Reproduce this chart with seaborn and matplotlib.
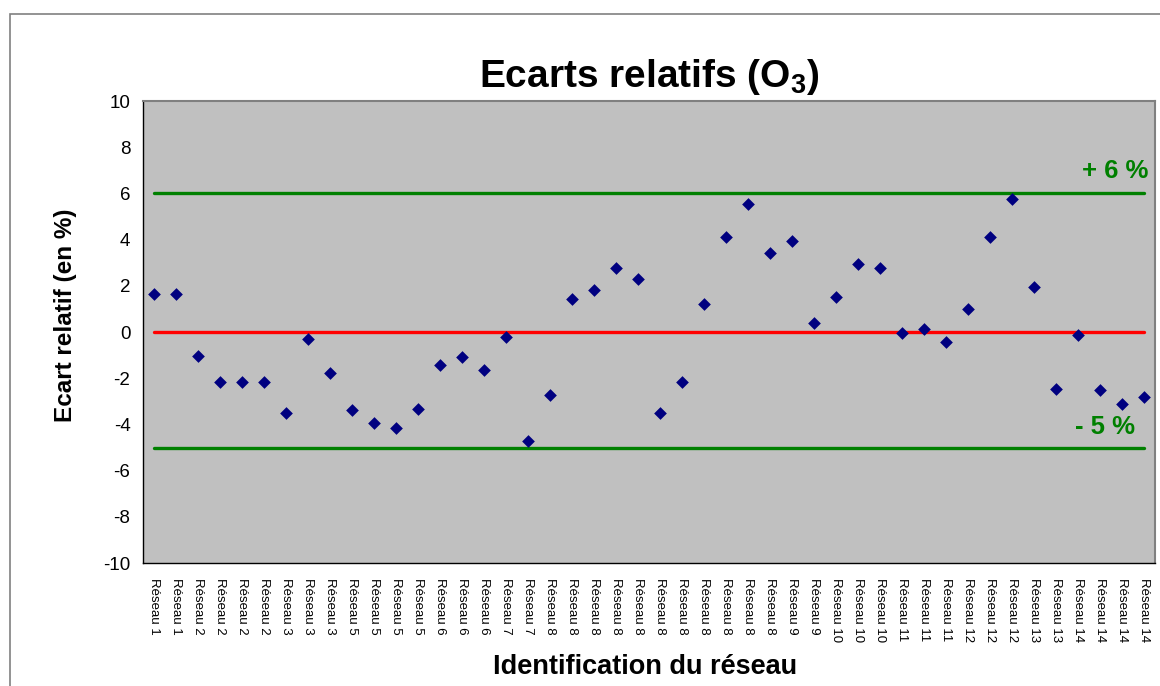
import numpy as np
import pandas as pd
import matplotlib.pyplot as plt
import seaborn as sns
from matplotlib.patches import Rectangle
from matplotlib.ticker import FixedLocator, NullFormatter

# réseaux (one label per point, repeated as in the source)
reseaux = [1, 1, 2, 2, 2, 2, 3, 3, 3, 5, 5, 5, 5, 6, 6, 6, 7, 7,
           8, 8, 8, 8, 8, 8, 8, 8, 8, 8, 8, 9, 9, 10, 10, 10,
           11, 11, 11, 12, 12, 12, 13, 13, 14, 14, 14, 14]
labels = ["Réseau %d" % r for r in reseaux]

ecarts = [1.65, 1.65, -1.03, -2.17, -2.17, -2.17, -3.50, -0.29, -1.79,
          -3.36, -3.95, -4.17, -3.34, -1.41, -1.10, -1.65, -0.20, -4.71,
          -2.74, 1.42, 1.81, 2.78, 2.31, -3.50, -2.17, 1.22, 4.13, 5.52,
          3.43, 3.96, 0.39, 1.51, 2.94, 2.78, -0.06, 0.11, -0.44, 0.98,
          4.13, 5.77, 1.95, -2.45, -0.11, -2.53, -3.11, -2.81]

limite_haute = 6
limite_basse = -5
reference = 0

df = pd.DataFrame({"pos": np.arange(len(ecarts)), "ecart": ecarts})

sns.set_style("white")
plt.rcParams['font.family'] = ['Liberation Sans', 'DejaVu Sans']
plt.rcParams['text.color'] = 'black'
plt.rcParams['axes.labelcolor'] = 'black'
plt.rcParams['xtick.color'] = 'black'
plt.rcParams['ytick.color'] = 'black'
plt.rcParams['mathtext.fontset'] = 'custom'
plt.rcParams['mathtext.rm'] = 'Liberation Sans:bold'
plt.rcParams['mathtext.default'] = 'rm'

fig = plt.figure(figsize=(11.6, 6.86), dpi=100)
ax = fig.add_axes([143/1160, 1-563/686, 1012/1160, 462/686])
ax.set_facecolor('#C0C0C0')

# outer chart border
fig.patches.append(Rectangle((10/1160, -0.1), 1.2, 1-14/686+0.1, transform=fig.transFigure,
                             fill=False, edgecolor='#808080', lw=1.2, zorder=0))

n = len(ecarts)
ax.plot([0, n-1], [limite_haute, limite_haute], color='#008000', lw=2.4, zorder=2)
ax.plot([0, n-1], [limite_basse, limite_basse], color='#008000', lw=2.4, zorder=2)
ax.plot([0, n-1], [reference, reference], color='#FF0000', lw=2.4, zorder=2)

sns.scatterplot(data=df, x="pos", y="ecart", marker='D', s=42, color='#000080',
                edgecolor='#000080', linewidth=0, ax=ax, zorder=3)

ax.set_xlim(-0.5, n-0.5)
ax.set_ylim(-10, 10)
ax.set_yticks(np.arange(-10, 11, 2))
ax.set_yticklabels([str(v) for v in range(-10, 11, 2)], fontsize=13.5)

ax.set_xticks(np.arange(n))
ax.set_xticklabels(labels, rotation=270, fontsize=9.5, va='top', ha='center',
                   family=['Liberation Sans Narrow', 'Liberation Sans', 'DejaVu Sans'])
ax.xaxis.set_minor_locator(FixedLocator(np.arange(n+1) - 0.5))
ax.xaxis.set_minor_formatter(NullFormatter())
ax.tick_params(axis='x', which='major', length=0, pad=11)
ax.tick_params(axis='x', which='minor', length=5, width=1, color='black', direction='out')
ax.tick_params(axis='y', length=5, width=1, color='black', direction='out', pad=4)

for s in ['top', 'right']:
    ax.spines[s].set_color('#808080')
    ax.spines[s].set_linewidth(1.5)
for s in ['left', 'bottom']:
    ax.spines[s].set_color('black')
    ax.spines[s].set_linewidth(1)

ax.set_xlabel("Identification du réseau", fontsize=19.5, fontweight='bold')
ax.xaxis.set_label_coords(0.4966, -0.197)
ax.set_ylabel("Ecart relatif (en %)", fontsize=17.5, fontweight='bold')
ax.yaxis.set_label_coords(-0.065, 0.537)
ax.set_title("Ecarts relatifs (O$_3$)", fontsize=28, fontweight='bold', pad=10)

ax.text(45.18, 6.67, "+ 6 %", color='#008000', fontsize=18.5,
        fontweight='bold', ha='right', va='baseline')
ax.text(44.59, -4.42, "- 5 %", color='#008000', fontsize=18.5,
        fontweight='bold', ha='right', va='baseline')

fig.savefig("out.png", dpi=100)
